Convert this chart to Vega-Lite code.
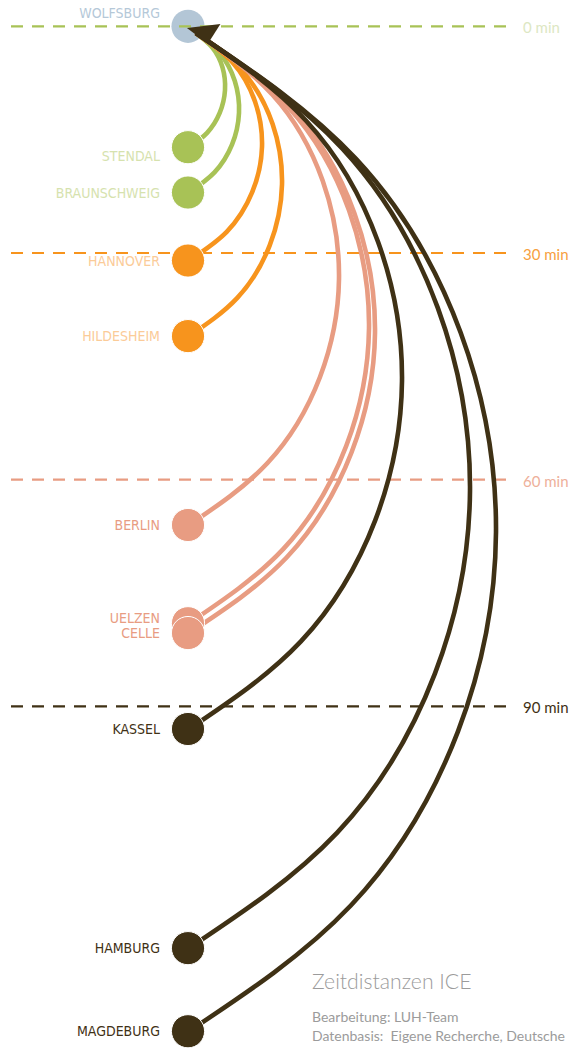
{
  "$schema": "https://vega.github.io/schema/vega-lite/v6.json",
  "width": 571,
  "height": 1051,
  "padding": 0,
  "autosize": "none",
  "background": "white",
  "config": {"view": {"stroke": null}},
  "resolve": {"scale": {"color": "independent"}},
  "datasets": {
    "orte": [
      {"Ort": "WOLFSBURG", "Minuten": 0, "Klasse": "Start"},
      {"Ort": "STENDAL", "Minuten": 16, "Klasse": "unter 30 min"},
      {"Ort": "BRAUNSCHWEIG", "Minuten": 22, "Klasse": "unter 30 min"},
      {"Ort": "HANNOVER", "Minuten": 31, "Klasse": "30 bis 60 min"},
      {"Ort": "HILDESHEIM", "Minuten": 41, "Klasse": "30 bis 60 min"},
      {"Ort": "BERLIN", "Minuten": 66, "Klasse": "60 bis 90 min"},
      {"Ort": "UELZEN", "Minuten": 79, "Klasse": "60 bis 90 min"},
      {"Ort": "CELLE", "Minuten": 80.3, "Klasse": "60 bis 90 min"},
      {"Ort": "KASSEL", "Minuten": 93, "Klasse": "über 90 min"},
      {"Ort": "HAMBURG", "Minuten": 122, "Klasse": "über 90 min"},
      {"Ort": "MAGDEBURG", "Minuten": 133, "Klasse": "über 90 min"}
    ],
    "zeitlinien": [
      {"Minuten": 0, "Text": "0 min"},
      {"Minuten": 30, "Text": "30 min"},
      {"Minuten": 60, "Text": "60 min"},
      {"Minuten": 90, "Text": "90 min"}
    ],
    "texte": [
      {"Art": "Titel", "Text": "Zeitdistanzen ICE"},
      {"Art": "Zeile1", "Text": "Bearbeitung: LUH-Team"},
      {"Art": "Zeile2", "Text": "Datenbasis:\u00a0 Eigene Recherche, Deutsche"}
    ],
    "boegen": [
      {"Ort": "STENDAL", "Klasse": "unter 30 min", "Punkt": 1, "Abstand": 189, "Minuten": 16},
      {"Ort": "STENDAL", "Klasse": "unter 30 min", "Punkt": 2, "Abstand": 207.1, "Minuten": 14.1},
      {"Ort": "STENDAL", "Klasse": "unter 30 min", "Punkt": 3, "Abstand": 219.7, "Minuten": 11.47},
      {"Ort": "STENDAL", "Klasse": "unter 30 min", "Punkt": 4, "Abstand": 225, "Minuten": 8.45},
      {"Ort": "STENDAL", "Klasse": "unter 30 min", "Punkt": 5, "Abstand": 222.5, "Minuten": 5.43},
      {"Ort": "STENDAL", "Klasse": "unter 30 min", "Punkt": 6, "Abstand": 212.3, "Minuten": 2.8},
      {"Ort": "STENDAL", "Klasse": "unter 30 min", "Punkt": 7, "Abstand": 196, "Minuten": 0.9},
      {"Ort": "BRAUNSCHWEIG", "Klasse": "unter 30 min", "Punkt": 1, "Abstand": 189, "Minuten": 22},
      {"Ort": "BRAUNSCHWEIG", "Klasse": "unter 30 min", "Punkt": 2, "Abstand": 214.5, "Minuten": 19.34},
      {"Ort": "BRAUNSCHWEIG", "Klasse": "unter 30 min", "Punkt": 3, "Abstand": 232, "Minuten": 15.67},
      {"Ort": "BRAUNSCHWEIG", "Klasse": "unter 30 min", "Punkt": 4, "Abstand": 239, "Minuten": 11.45},
      {"Ort": "BRAUNSCHWEIG", "Klasse": "unter 30 min", "Punkt": 5, "Abstand": 234.8, "Minuten": 7.24},
      {"Ort": "BRAUNSCHWEIG", "Klasse": "unter 30 min", "Punkt": 6, "Abstand": 219.7, "Minuten": 3.56},
      {"Ort": "BRAUNSCHWEIG", "Klasse": "unter 30 min", "Punkt": 7, "Abstand": 196, "Minuten": 0.9},
      {"Ort": "HANNOVER", "Klasse": "30 bis 60 min", "Punkt": 1, "Abstand": 189, "Minuten": 31},
      {"Ort": "HANNOVER", "Klasse": "30 bis 60 min", "Punkt": 2, "Abstand": 226.7, "Minuten": 27.21},
      {"Ort": "HANNOVER", "Klasse": "30 bis 60 min", "Punkt": 3, "Abstand": 252.2, "Minuten": 21.96},
      {"Ort": "HANNOVER", "Klasse": "30 bis 60 min", "Punkt": 4, "Abstand": 262, "Minuten": 15.95},
      {"Ort": "HANNOVER", "Klasse": "30 bis 60 min", "Punkt": 5, "Abstand": 255, "Minuten": 9.94},
      {"Ort": "HANNOVER", "Klasse": "30 bis 60 min", "Punkt": 6, "Abstand": 231.9, "Minuten": 4.69},
      {"Ort": "HANNOVER", "Klasse": "30 bis 60 min", "Punkt": 7, "Abstand": 196, "Minuten": 0.9},
      {"Ort": "HILDESHEIM", "Klasse": "30 bis 60 min", "Punkt": 1, "Abstand": 189, "Minuten": 41},
      {"Ort": "HILDESHEIM", "Klasse": "30 bis 60 min", "Punkt": 2, "Abstand": 237.3, "Minuten": 35.95},
      {"Ort": "HILDESHEIM", "Klasse": "30 bis 60 min", "Punkt": 3, "Abstand": 269.8, "Minuten": 28.96},
      {"Ort": "HILDESHEIM", "Klasse": "30 bis 60 min", "Punkt": 4, "Abstand": 282, "Minuten": 20.95},
      {"Ort": "HILDESHEIM", "Klasse": "30 bis 60 min", "Punkt": 5, "Abstand": 272.6, "Minuten": 12.94},
      {"Ort": "HILDESHEIM", "Klasse": "30 bis 60 min", "Punkt": 6, "Abstand": 242.5, "Minuten": 5.95},
      {"Ort": "HILDESHEIM", "Klasse": "30 bis 60 min", "Punkt": 7, "Abstand": 196, "Minuten": 0.9},
      {"Ort": "BERLIN", "Klasse": "60 bis 90 min", "Punkt": 1, "Abstand": 189, "Minuten": 66},
      {"Ort": "BERLIN", "Klasse": "60 bis 90 min", "Punkt": 2, "Abstand": 267.5, "Minuten": 57.8},
      {"Ort": "BERLIN", "Klasse": "60 bis 90 min", "Punkt": 3, "Abstand": 319.9, "Minuten": 46.45},
      {"Ort": "BERLIN", "Klasse": "60 bis 90 min", "Punkt": 4, "Abstand": 339, "Minuten": 33.45},
      {"Ort": "BERLIN", "Klasse": "60 bis 90 min", "Punkt": 5, "Abstand": 322.7, "Minuten": 20.45},
      {"Ort": "BERLIN", "Klasse": "60 bis 90 min", "Punkt": 6, "Abstand": 272.7, "Minuten": 9.1},
      {"Ort": "BERLIN", "Klasse": "60 bis 90 min", "Punkt": 7, "Abstand": 196, "Minuten": 0.9},
      {"Ort": "UELZEN", "Klasse": "60 bis 90 min", "Punkt": 1, "Abstand": 189, "Minuten": 79},
      {"Ort": "UELZEN", "Klasse": "60 bis 90 min", "Punkt": 2, "Abstand": 283.4, "Minuten": 69.16},
      {"Ort": "UELZEN", "Klasse": "60 bis 90 min", "Punkt": 3, "Abstand": 346.2, "Minuten": 55.55},
      {"Ort": "UELZEN", "Klasse": "60 bis 90 min", "Punkt": 4, "Abstand": 369, "Minuten": 39.95},
      {"Ort": "UELZEN", "Klasse": "60 bis 90 min", "Punkt": 5, "Abstand": 349, "Minuten": 24.35},
      {"Ort": "UELZEN", "Klasse": "60 bis 90 min", "Punkt": 6, "Abstand": 288.6, "Minuten": 10.74},
      {"Ort": "UELZEN", "Klasse": "60 bis 90 min", "Punkt": 7, "Abstand": 196, "Minuten": 0.9},
      {"Ort": "CELLE", "Klasse": "60 bis 90 min", "Punkt": 1, "Abstand": 189, "Minuten": 80.3},
      {"Ort": "CELLE", "Klasse": "60 bis 90 min", "Punkt": 2, "Abstand": 286.6, "Minuten": 70.3},
      {"Ort": "CELLE", "Klasse": "60 bis 90 min", "Punkt": 3, "Abstand": 351.5, "Minuten": 56.4},
      {"Ort": "CELLE", "Klasse": "60 bis 90 min", "Punkt": 4, "Abstand": 375, "Minuten": 40.6},
      {"Ort": "CELLE", "Klasse": "60 bis 90 min", "Punkt": 5, "Abstand": 354.3, "Minuten": 24.7},
      {"Ort": "CELLE", "Klasse": "60 bis 90 min", "Punkt": 6, "Abstand": 291.8, "Minuten": 10.9},
      {"Ort": "CELLE", "Klasse": "60 bis 90 min", "Punkt": 7, "Abstand": 196, "Minuten": 0.9},
      {"Ort": "KASSEL", "Klasse": "über 90 min", "Punkt": 1, "Abstand": 189, "Minuten": 93},
      {"Ort": "KASSEL", "Klasse": "über 90 min", "Punkt": 2, "Abstand": 300.9, "Minuten": 81.4},
      {"Ort": "KASSEL", "Klasse": "über 90 min", "Punkt": 3, "Abstand": 375.3, "Minuten": 65.35},
      {"Ort": "KASSEL", "Klasse": "über 90 min", "Punkt": 4, "Abstand": 402, "Minuten": 46.95},
      {"Ort": "KASSEL", "Klasse": "über 90 min", "Punkt": 5, "Abstand": 378.1, "Minuten": 28.55},
      {"Ort": "KASSEL", "Klasse": "über 90 min", "Punkt": 6, "Abstand": 306.1, "Minuten": 12.5},
      {"Ort": "KASSEL", "Klasse": "über 90 min", "Punkt": 7, "Abstand": 196, "Minuten": 0.9},
      {"Ort": "HAMBURG", "Klasse": "über 90 min", "Punkt": 1, "Abstand": 189, "Minuten": 122},
      {"Ort": "HAMBURG", "Klasse": "über 90 min", "Punkt": 2, "Abstand": 337, "Minuten": 106.74},
      {"Ort": "HAMBURG", "Klasse": "über 90 min", "Punkt": 3, "Abstand": 435, "Minuten": 85.64},
      {"Ort": "HAMBURG", "Klasse": "über 90 min", "Punkt": 4, "Abstand": 470, "Minuten": 61.45},
      {"Ort": "HAMBURG", "Klasse": "über 90 min", "Punkt": 5, "Abstand": 437.8, "Minuten": 37.26},
      {"Ort": "HAMBURG", "Klasse": "über 90 min", "Punkt": 6, "Abstand": 342.2, "Minuten": 16.16},
      {"Ort": "HAMBURG", "Klasse": "über 90 min", "Punkt": 7, "Abstand": 196, "Minuten": 0.9},
      {"Ort": "MAGDEBURG", "Klasse": "über 90 min", "Punkt": 1, "Abstand": 189, "Minuten": 133},
      {"Ort": "MAGDEBURG", "Klasse": "über 90 min", "Punkt": 2, "Abstand": 350.8, "Minuten": 116.36},
      {"Ort": "MAGDEBURG", "Klasse": "über 90 min", "Punkt": 3, "Abstand": 457.9, "Minuten": 93.34},
      {"Ort": "MAGDEBURG", "Klasse": "über 90 min", "Punkt": 4, "Abstand": 496, "Minuten": 66.95},
      {"Ort": "MAGDEBURG", "Klasse": "über 90 min", "Punkt": 5, "Abstand": 460.7, "Minuten": 40.56},
      {"Ort": "MAGDEBURG", "Klasse": "über 90 min", "Punkt": 6, "Abstand": 356, "Minuten": 17.55},
      {"Ort": "MAGDEBURG", "Klasse": "über 90 min", "Punkt": 7, "Abstand": 196, "Minuten": 0.9}
    ]
  },
  "layer": [
    {
      "data": {"name": "orte"},
      "transform": [{"filter": "datum.Klasse === 'Start'"}],
      "mark": {"type": "point", "filled": true, "shape": "circle", "size": 1100, "color": "#b3c6d6", "opacity": 1},
      "encoding": {
        "x": {"datum": 188, "type": "quantitative", "scale": {"domain": [0, 571], "nice": false, "zero": false}, "axis": null},
        "y": {"field": "Minuten", "type": "quantitative", "scale": {"domain": [-3.481, 135.614], "reverse": true, "nice": false, "zero": false}, "axis": null}
      }
    },
    {
      "data": {"name": "zeitlinien"},
      "mark": {"type": "rule", "strokeDash": [12, 9], "strokeWidth": 2.2},
      "encoding": {
        "x": {"datum": 11, "type": "quantitative", "scale": {"domain": [0, 571], "nice": false, "zero": false}, "axis": null},
        "x2": {"datum": 508},
        "y": {"field": "Minuten", "type": "quantitative", "scale": {"domain": [-3.481, 135.614], "reverse": true, "nice": false, "zero": false}, "axis": null},
        "color": {"field": "Text", "type": "nominal", "scale": {"domain": ["0 min", "30 min", "60 min", "90 min"], "range": ["#a8c256", "#f7941d", "#e89c82", "#3f3115"]}, "legend": null}
      }
    },
    {
      "data": {"name": "zeitlinien"},
      "mark": {"type": "text", "align": "left", "baseline": "middle", "dy": 2, "fontSize": 15, "font": "Lato"},
      "encoding": {
        "x": {"datum": 523, "type": "quantitative", "scale": {"domain": [0, 571], "nice": false, "zero": false}, "axis": null},
        "y": {"field": "Minuten", "type": "quantitative", "scale": {"domain": [-3.481, 135.614], "reverse": true, "nice": false, "zero": false}, "axis": null},
        "text": {"field": "Text"},
        "color": {"field": "Text", "type": "nominal", "scale": {"domain": ["0 min", "30 min", "60 min", "90 min"], "range": ["#dde7c3", "#f7a040", "#eeb09a", "#3f3115"]}, "legend": null}
      }
    },
    {
      "data": {"name": "boegen"},
      "mark": {"type": "line", "interpolate": "natural", "strokeWidth": 4.6, "strokeCap": "butt"},
      "encoding": {
        "x": {"field": "Abstand", "type": "quantitative", "scale": {"domain": [0, 571], "nice": false, "zero": false}, "axis": null},
        "y": {"field": "Minuten", "type": "quantitative", "scale": {"domain": [-3.481, 135.614], "reverse": true, "nice": false, "zero": false}, "axis": null},
        "order": {"field": "Punkt", "type": "quantitative"},
        "detail": {"field": "Ort"},
        "color": {"field": "Klasse", "type": "nominal", "scale": {"domain": ["unter 30 min", "30 bis 60 min", "60 bis 90 min", "über 90 min"], "range": ["#a8c256", "#f7941d", "#e89c82", "#3f3115"]}, "legend": null}
      }
    },
    {
      "data": {"name": "orte"},
      "transform": [{"filter": "datum.Klasse !== 'Start'"}],
      "mark": {"type": "point", "filled": true, "shape": "circle", "size": 1100, "stroke": "white", "strokeWidth": 1, "opacity": 1},
      "encoding": {
        "x": {"datum": 188, "type": "quantitative", "scale": {"domain": [0, 571], "nice": false, "zero": false}, "axis": null},
        "y": {"field": "Minuten", "type": "quantitative", "scale": {"domain": [-3.481, 135.614], "reverse": true, "nice": false, "zero": false}, "axis": null},
        "color": {"field": "Klasse", "type": "nominal", "scale": {"domain": ["unter 30 min", "30 bis 60 min", "60 bis 90 min", "über 90 min"], "range": ["#a8c256", "#f7941d", "#e89c82", "#3f3115"]}, "legend": null}
      }
    },
    {
      "data": {"name": "orte"},
      "transform": [{"filter": "datum.Ort !== 'WOLFSBURG' && datum.Ort !== 'STENDAL' && datum.Ort !== 'UELZEN'"}],
      "mark": {"type": "text", "align": "right", "baseline": "middle", "dy": 1, "fontSize": 14, "font": "DejaVu Sans Condensed, DejaVu Sans, sans-serif"},
      "encoding": {
        "x": {"datum": 160, "type": "quantitative", "scale": {"domain": [0, 571], "nice": false, "zero": false}, "axis": null},
        "y": {"field": "Minuten", "type": "quantitative", "scale": {"domain": [-3.481, 135.614], "reverse": true, "nice": false, "zero": false}, "axis": null},
        "text": {"field": "Ort"},
        "color": {"field": "Klasse", "type": "nominal", "scale": {"domain": ["Start", "unter 30 min", "30 bis 60 min", "60 bis 90 min", "über 90 min"], "range": ["#b5c8d8", "#d6e2ae", "#fbcb98", "#e89c82", "#3f3115"]}, "legend": null}
      }
    },
    {
      "data": {"name": "orte"},
      "transform": [{"filter": "datum.Ort === 'UELZEN'"}],
      "mark": {"type": "text", "align": "right", "baseline": "middle", "dy": -4, "fontSize": 14, "font": "DejaVu Sans Condensed, DejaVu Sans, sans-serif", "color": "#e89c82"},
      "encoding": {
        "x": {"datum": 160, "type": "quantitative", "scale": {"domain": [0, 571], "nice": false, "zero": false}, "axis": null},
        "y": {"field": "Minuten", "type": "quantitative", "scale": {"domain": [-3.481, 135.614], "reverse": true, "nice": false, "zero": false}, "axis": null},
        "text": {"field": "Ort"}
      }
    },
    {
      "data": {"name": "orte"},
      "transform": [{"filter": "datum.Ort === 'WOLFSBURG'"}],
      "mark": {"type": "text", "align": "right", "baseline": "middle", "dy": -12, "fontSize": 14, "font": "DejaVu Sans Condensed, DejaVu Sans, sans-serif", "color": "#b5c8d8"},
      "encoding": {
        "x": {"datum": 160, "type": "quantitative", "scale": {"domain": [0, 571], "nice": false, "zero": false}, "axis": null},
        "y": {"field": "Minuten", "type": "quantitative", "scale": {"domain": [-3.481, 135.614], "reverse": true, "nice": false, "zero": false}, "axis": null},
        "text": {"field": "Ort"}
      }
    },
    {
      "data": {"name": "orte"},
      "transform": [{"filter": "datum.Ort === 'STENDAL'"}],
      "mark": {"type": "text", "align": "right", "baseline": "middle", "dy": 10, "fontSize": 14, "font": "DejaVu Sans Condensed, DejaVu Sans, sans-serif", "color": "#d6e2ae"},
      "encoding": {
        "x": {"datum": 160, "type": "quantitative", "scale": {"domain": [0, 571], "nice": false, "zero": false}, "axis": null},
        "y": {"field": "Minuten", "type": "quantitative", "scale": {"domain": [-3.481, 135.614], "reverse": true, "nice": false, "zero": false}, "axis": null},
        "text": {"field": "Ort"}
      }
    },
    {
      "data": {"name": "orte"},
      "transform": [{"filter": "datum.Ort === 'WOLFSBURG'"}],
      "mark": {"type": "point", "filled": true, "size": 1750, "shape": "M-0.05,0.085L1.55,-0.115L0.95,0.835Z", "color": "#3f3115", "opacity": 1},
      "encoding": {
        "x": {"datum": 188, "type": "quantitative", "scale": {"domain": [0, 571], "nice": false, "zero": false}, "axis": null},
        "y": {"field": "Minuten", "type": "quantitative", "scale": {"domain": [-3.481, 135.614], "reverse": true, "nice": false, "zero": false}, "axis": null}
      }
    },
    {
      "data": {"name": "texte"},
      "transform": [{"filter": "datum.Art === 'Titel'"}],
      "mark": {"type": "text", "align": "left", "baseline": "alphabetic", "fontSize": 21.2, "font": "Lato", "fontWeight": 300, "color": "#9b9b9b"},
      "encoding": {
        "x": {"datum": 312, "type": "quantitative", "scale": {"domain": [0, 571], "nice": false, "zero": false}, "axis": null},
        "y": {"datum": 127.4, "type": "quantitative", "scale": {"domain": [-3.481, 135.614], "reverse": true, "nice": false, "zero": false}, "axis": null},
        "text": {"field": "Text"}
      }
    },
    {
      "data": {"name": "texte"},
      "transform": [{"filter": "datum.Art === 'Zeile1'"}],
      "mark": {"type": "text", "align": "left", "baseline": "alphabetic", "fontSize": 14, "font": "Lato", "color": "#9b9b9b"},
      "encoding": {
        "x": {"datum": 312, "type": "quantitative", "scale": {"domain": [0, 571], "nice": false, "zero": false}, "axis": null},
        "y": {"datum": 131.8, "type": "quantitative", "scale": {"domain": [-3.481, 135.614], "reverse": true, "nice": false, "zero": false}, "axis": null},
        "text": {"field": "Text"}
      }
    },
    {
      "data": {"name": "texte"},
      "transform": [{"filter": "datum.Art === 'Zeile2'"}],
      "mark": {"type": "text", "align": "left", "baseline": "alphabetic", "fontSize": 14, "font": "Lato", "color": "#9b9b9b"},
      "encoding": {
        "x": {"datum": 312, "type": "quantitative", "scale": {"domain": [0, 571], "nice": false, "zero": false}, "axis": null},
        "y": {"datum": 134.3, "type": "quantitative", "scale": {"domain": [-3.481, 135.614], "reverse": true, "nice": false, "zero": false}, "axis": null},
        "text": {"field": "Text"}
      }
    }
  ]
}
